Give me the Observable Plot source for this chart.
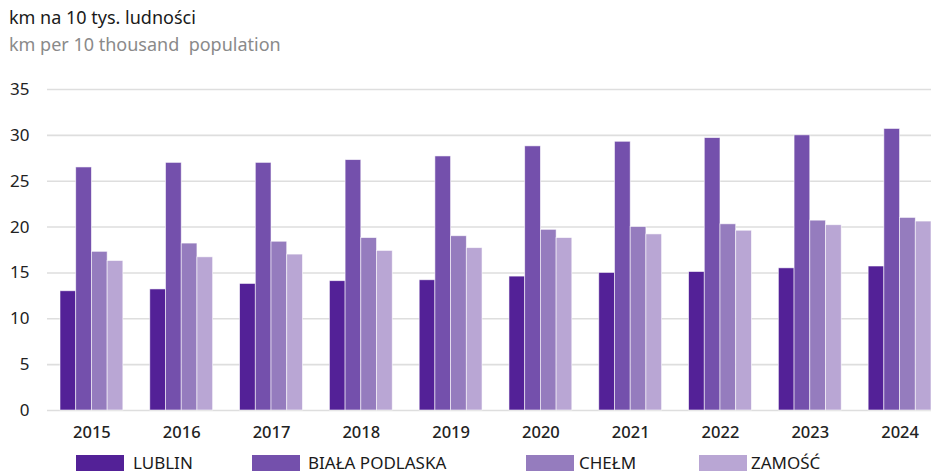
<!DOCTYPE html>
<html>
<head>
<meta charset="utf-8">
<script src="https://cdn.jsdelivr.net/npm/d3@7"></script>
<script src="https://cdn.jsdelivr.net/npm/@observablehq/plot@0.6"></script>
<style>
  html, body { margin: 0; padding: 0; background: #fff; }
  body { width: 931px; height: 476px; overflow: hidden; position: relative; font-family: "Noto Sans", sans-serif; }
  #title { position: absolute; left: 9px; top: 5px; font-size: 18px; color: #1a1a1a; }
  #subtitle { position: absolute; left: 9px; top: 32px; font-size: 18px; color: #8a8a8a; }
  .layer { position: absolute; left: 0; top: 62px; }
  .lg-sw { position: absolute; top: 455px; width: 48px; height: 16px; }
  .lg-tx { position: absolute; top: 452px; font-size: 17px; color: #1a1a1a; line-height: 22px; }
</style>
</head>
<body>
<div id="title">km na 10 tys. ludności</div>
<div id="subtitle">km per 10 thousand&nbsp; population</div>
<div id="grid" class="layer"></div>
<div id="bars" class="layer"></div>
<div id="legend"></div>
<script>
const years = [2015, 2016, 2017, 2018, 2019, 2020, 2021, 2022, 2023, 2024];
const seriesNames = ["LUBLIN", "BIAŁA PODLASKA", "CHEŁM", "ZAMOŚĆ"];
const lublin = [13.0, 13.2, 13.8, 14.1, 14.2, 14.6, 15.0, 15.1, 15.5, 15.7];
const biala  = [26.5, 27.0, 27.0, 27.3, 27.7, 28.8, 29.3, 29.7, 30.0, 30.7];
const chelm  = [17.3, 18.2, 18.4, 18.8, 19.0, 19.7, 20.0, 20.3, 20.7, 21.0];
const zamosc = [16.3, 16.7, 17.0, 17.4, 17.7, 18.8, 19.2, 19.6, 20.2, 20.6];
const yTicks = [0, 5, 10, 15, 20, 25, 30, 35];
const colors = ["#532197", "#7450ac", "#957cbe", "#b9a6d4"];

const seriesValues = [lublin, biala, chelm, zamosc];
const data = [];
years.forEach((yr, i) => {
  seriesNames.forEach((s, j) => {
    data.push({ year: String(yr), series: s, value: seriesValues[j][i] });
  });
});

const common = {
  width: 931,
  height: 383,
  marginTop: 27,
  marginBottom: 35,
  marginRight: 0
};

// Layer 1: y axis and full-width gridlines
const gridPlot = Plot.plot({
  ...common,
  marginLeft: 47,
  style: { fontSize: "17px", fontFamily: "Noto Sans", color: "#222", background: "transparent" },
  x: { axis: null },
  y: { domain: [0, 35], ticks: yTicks, tickSize: 0, tickPadding: 18, label: null },
  marks: [
    Plot.ruleY(yTicks, { stroke: "#dedede", strokeWidth: 1.6 })
  ]
});
document.getElementById("grid").appendChild(gridPlot);

// Layer 2: grouped bars faceted by year
const barPlot = Plot.plot({
  ...common,
  marginLeft: 60,
  style: { fontSize: "16.5px", fontFamily: "Noto Sans", color: "#222", background: "transparent" },
  fx: {
    domain: years.map(String),
    paddingInner: 0.3, paddingOuter: 0, round: false,
    axis: "bottom", tickSize: 0, tickPadding: 16, label: null
  },
  x: { domain: seriesNames, padding: 0, round: false, axis: null },
  y: { domain: [0, 35], axis: null },
  color: { domain: seriesNames, range: colors },
  marks: [
    Plot.barY(data, {
      fx: "year", x: "series", y: "value", fill: "series",
      stroke: "#ffffff", strokeWidth: 0.8, strokeOpacity: 0.7
    })
  ]
});
barPlot.querySelectorAll("text").forEach(t => { t.style.fontWeight = "500"; });
document.getElementById("bars").appendChild(barPlot);

const swatchLeft = [76, 252, 526, 699];
const textLeft = [133, 308, 579, 751];
const legend = document.getElementById("legend");
seriesNames.forEach((s, i) => {
  const sw = document.createElement("div");
  sw.className = "lg-sw";
  sw.style.left = swatchLeft[i] + "px";
  sw.style.background = colors[i];
  legend.appendChild(sw);
  const tx = document.createElement("div");
  tx.className = "lg-tx";
  tx.style.left = textLeft[i] + "px";
  tx.textContent = s;
  legend.appendChild(tx);
});
</script>
</body>
</html>
